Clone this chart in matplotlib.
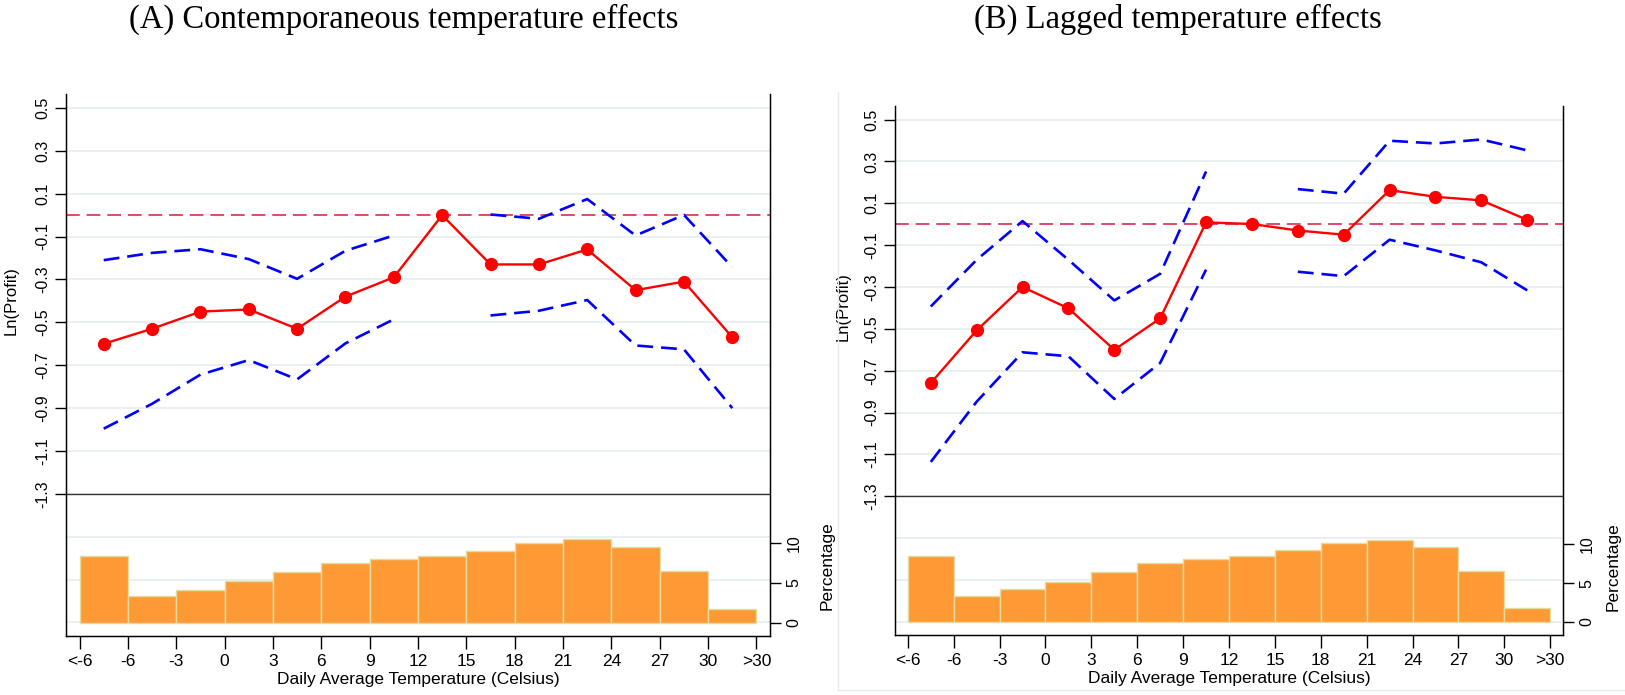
import numpy as np
import matplotlib
matplotlib.use("Agg")
import matplotlib.pyplot as plt
from matplotlib.lines import Line2D

nan = np.nan

temp_labels = ["<-6", "-6", "-3", "0", "3", "6", "9", "12", "15", "18", "21", "24", "27", "30", ">30"]
y_ticks = [0.5, 0.3, 0.1, -0.1, -0.3, -0.5, -0.7, -0.9, -1.1, -1.3]

# (A) contemporaneous
est_a = [-0.60, -0.53, -0.45, -0.44, -0.53, -0.38, -0.29, 0.00, -0.23, -0.23, -0.16, -0.35, -0.31, -0.57]
hi_a = [-0.21, -0.176, -0.159, -0.205, -0.297, -0.166, -0.095, nan, 0.003, -0.017, 0.075, -0.095, 0.001, -0.243]
lo_a = [-0.996, -0.88, -0.744, -0.676, -0.766, -0.598, -0.486, nan, -0.468, -0.446, -0.396, -0.608, -0.626, -0.90]
pct_a = [8.4, 3.3, 4.1, 5.2, 6.4, 7.5, 8.0, 8.4, 9.0, 10.0, 10.5, 9.5, 6.5, 1.75]

# (B) lagged
est_b = [-0.759, -0.507, -0.30, -0.402, -0.60, -0.45, 0.009, 0.001, -0.03, -0.05, 0.163, 0.131, 0.114, 0.021]
hi_b = [-0.393, -0.17, 0.015, -0.17, -0.364, -0.237, 0.252, nan, 0.168, 0.146, 0.399, 0.386, 0.405, 0.353]
lo_b = [-1.136, -0.848, -0.612, -0.631, -0.835, -0.663, -0.217, nan, -0.227, -0.248, -0.074, -0.125, -0.182, -0.316]
pct_b = [8.5, 3.4, 4.2, 5.2, 6.45, 7.6, 8.1, 8.5, 9.2, 10.2, 10.6, 9.6, 6.5, 1.8]

W, H = 1625, 695
fig = plt.figure(figsize=(W / 100, H / 100), dpi=100)

sans = ["Liberation Sans", "DejaVu Sans"]
serif = ["Liberation Serif", "DejaVu Serif"]

grid_col = "#e8eff1"


def panel(rect, est, hi, lo, pct, ylab_y, pct_x):
    l, t, r, b = rect
    ax = fig.add_axes([l / W, (H - b) / H, (r - l) / W, (b - t) / H])
    ax.set_xlim(-0.28, 14.28)
    ax.set_ylim(-1.963, 0.565)
    ax.set_yticks(y_ticks)
    ax.set_yticklabels(["%.1f" % v for v in y_ticks], rotation=90, va="center",
                       family=sans, fontsize=11.5)
    ax.set_yticks([-1.5, -1.7, -1.9], minor=True)
    ax.tick_params(axis="y", which="minor", length=0)
    ax.tick_params(axis="y", which="major", length=8, width=1, pad=3)
    ax.grid(axis="y", which="both", color=grid_col, lw=1.3)
    ax.set_axisbelow(True)
    ax.set_xticks(range(len(temp_labels)))
    ax.set_xticklabels(temp_labels, family=sans, fontsize=12.5)
    ax.tick_params(axis="x", length=9, width=1, pad=4)
    for s in ["left", "right", "bottom"]:
        ax.spines[s].set_linewidth(1)
    ax.spines["top"].set_visible(False)

    mid = np.arange(len(est)) + 0.5
    ax.axhline(-1.3, color="#333333", lw=1)
    ax.axhline(0, color="#d41a3c", lw=1.1, linestyle=(0, (9, 4.5)))
    ax.plot(mid, hi, color="#0000ff", lw=1.9, linestyle=(0, (6, 3)))
    ax.plot(mid, lo, color="#0000ff", lw=1.9, linestyle=(0, (6, 3)))
    ax.plot(mid, est, color="#ff0000", lw=1.7, marker="o", markersize=8.5)

    ax.set_ylabel("Ln(Profit)", family=sans, fontsize=12)
    ax.yaxis.set_label_coords(-0.067, ylab_y)
    ax.set_xlabel("Daily Average Temperature (Celsius)", family=sans, fontsize=12.5, labelpad=2)

    ax2 = ax.twinx()
    ax2.set_ylim(-1.67, 66.3)
    ax2.bar(mid, pct, width=1.0, color="#fd9a36", edgecolor="#e2dc9e", lw=1)
    ax2.set_yticks([0, 5, 10])
    ax2.set_yticklabels(["0", "5", "10"], rotation=90, va="center", family=sans, fontsize=11.5)
    ax2.tick_params(axis="y", length=8, width=1, pad=4)
    ax2.spines["top"].set_visible(False)
    ax2.set_ylabel("Percentage", family=sans, fontsize=12.5, rotation=90)
    ax2.yaxis.set_label_coords(pct_x, 0.13)
    return ax


panel((66, 94, 770, 636), est_a, hi_a, lo_a, pct_a, 0.618, 1.070)
panel((895, 106, 1563, 635), est_b, hi_b, lo_b, pct_b, 0.62, 1.064)

fig.text(404 / W, 1 - 19 / H, "(A) Contemporaneous temperature effects",
         family=serif, fontsize=23.5, ha="center", va="center")
fig.text(1178 / W, 1 - 19 / H, "(B) Lagged temperature effects",
         family=serif, fontsize=23.5, ha="center", va="center")

# faint outline around panel B's graph region
fig.add_artist(Line2D([838 / W, 838 / W], [1 - 92 / H, 1 - 690 / H], color="#e6eced", lw=1))
fig.add_artist(Line2D([838 / W, 1.0], [1 - 690 / H, 1 - 690 / H], color="#e6eced", lw=1))

fig.savefig("out.png", dpi=100)
